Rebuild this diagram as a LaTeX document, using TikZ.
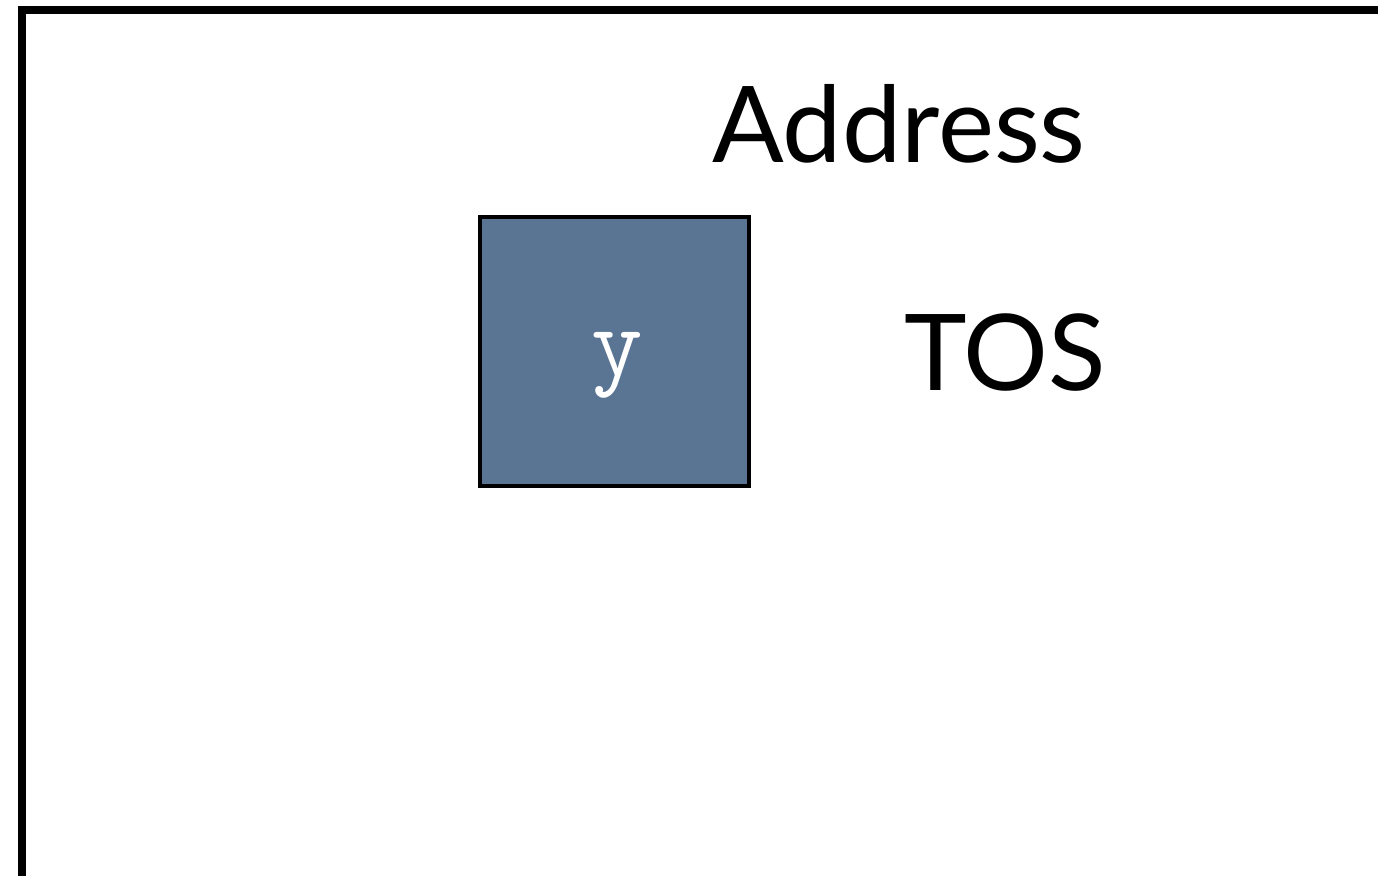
\documentclass[tikz,border=0pt]{standalone}
\usepackage{fontspec}
\setmainfont{Lato}
\begin{document}
\begin{tikzpicture}[x=1pt,y=-1pt,
  frameline/.style={line width=8pt,line cap=rect},
  cell/.style={draw=black,line width=4pt,fill=cellblue,minimum size=269pt,inner sep=0pt},
  celltext/.style={text=white,font=\ttfamily\fontsize{100}{100}\selectfont,inner sep=0pt},
  biglabel/.style={font=\fontsize{106}{106}\selectfont,inner sep=0pt,anchor=base}]
\definecolor{cellblue}{HTML}{5A7594}
\useasboundingbox (0,0) rectangle (1378,875);
% outer frame, open to the right and bottom
\coordinate (fl) at (22,880);
\coordinate (fc) at (22,10);
\coordinate (fr) at (1385,10);
\draw[frameline] (fl) -- (fc) -- (fr);
% stack cell
\node[cell] (y) at (614,351) {};
\node[celltext] (ylab) at (617,365) {y};
% labels
\node[biglabel] (addr) at (899,162) {Address};
\node[biglabel] (tos) at (1005,390) {TOS};
\end{tikzpicture}
\end{document}
